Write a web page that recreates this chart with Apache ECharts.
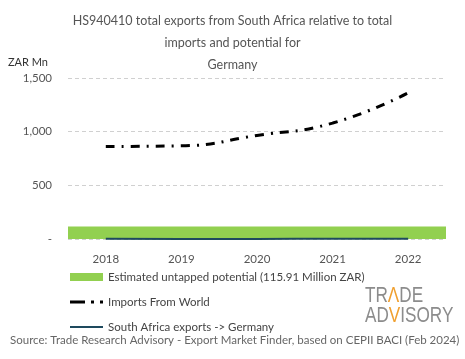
<!DOCTYPE html>
<html><head><meta charset="utf-8">
<script src="https://cdn.jsdelivr.net/npm/echarts@6/dist/echarts.min.js"></script>
<style>html,body{margin:0;padding:0;background:#fff}#c{width:465px;height:359px}</style>
</head><body><div id="c"></div>
<script>
const years = ['2018','2019','2020','2021','2022'];
const untappedPotential = 115.91;
const importsWorld = [862,868,965,1080,1362];
const saExports = [2,1,1,3,2];
const yTicks = [0,500,1000,1500];

const chart = echarts.init(document.getElementById('c'));
const font = 'Lato, "Noto Sans", sans-serif';
const logoFont = '"Liberation Sans", sans-serif';
chart.setOption({
  animation:false,
  title:{text:'HS940410 total exports from South Africa relative to total\nimports and potential for\nGermany',
    left:'center', top:5, textStyle:{fontFamily:font,fontSize:12.5,fontWeight:'normal',color:'#555',lineHeight:22}},
  grid:{left:68,right:19,top:78,bottom:120},
  legend:{orient:'vertical',left:65,top:265,itemGap:11,itemWidth:33,itemHeight:8,
    textStyle:{fontFamily:font,fontSize:11.5,color:'#444',lineHeight:14},
    data:[
      {name:'Estimated untapped potential (115.91 Million ZAR)',icon:'rect',itemStyle:{color:'#92d050'}},
      {name:'Imports From World',icon:'path://M0,3 L10,3 L10,5 L0,5 Z M14,3 L16,3 L16,5 L14,5 Z M20,3 L22,3 L22,5 L20,5 Z',itemStyle:{color:'#000'}},
      {name:'South Africa exports -> Germany',icon:'path://M0,3 L30,3 L30,5 L0,5 Z',itemStyle:{color:'#1e4a5e'}}
    ]},
  xAxis:{type:'category',data:years,boundaryGap:true,
    axisLine:{show:false},axisTick:{show:false},
    axisLabel:{fontFamily:font,fontSize:11.5,color:'#555',margin:14}},
  yAxis:{type:'value',min:0,max:1500,interval:500,name:'ZAR Mn',
    nameLocation:'end',nameGap:10,nameTextStyle:{fontFamily:font,fontSize:11,color:'#333',align:'right',padding:[0,20,0,0]},
    axisLine:{show:false},axisTick:{show:false},
    splitLine:{lineStyle:{type:[4,3],color:'#d0d0d0'}},
    axisLabel:{fontFamily:font,fontSize:11.5,color:'#555',margin:16,
      formatter:v=>v===0?'-':v.toLocaleString('en-US')}},
  series:[
    {name:'Estimated untapped potential (115.91 Million ZAR)',type:'line',data:[],
      itemStyle:{color:'#92d050'},lineStyle:{color:'#92d050'},z:1,
      markArea:{silent:true,itemStyle:{color:'#92d050',opacity:1},
        data:[[{yAxis:0},{yAxis:untappedPotential}]]}},
    {name:'Imports From World',type:'line',data:importsWorld,smooth:true,symbol:'none',
      lineStyle:{color:'#000',width:3,type:[9,7,2,7]},itemStyle:{color:'#000'},z:3},
    {name:'South Africa exports -> Germany',type:'line',data:saExports,smooth:true,symbol:'none',
      lineStyle:{color:'#1e4a5e',width:2},itemStyle:{color:'#1e4a5e'},z:4}
  ],
  graphic:[
    {type:'text',left:10,top:334,style:{text:'Source: Trade Research Advisory - Export Market Finder, based on CEPII BACI (Feb 2024)',
      fontFamily:font,fontSize:11.5,fill:'#666'}},
    {type:'text',x:365,y:285,scaleX:0.78,style:{text:'{g|TR}{o|Λ}{g|DE}',
      rich:{g:{fontFamily:logoFont,fontSize:22,fill:'#8c8c8c'},
            o:{fontFamily:logoFont,fontSize:22,fill:'#f0a030'}}}},
    {type:'text',x:365,y:305,scaleX:0.78,style:{text:'{g|AD}{o|V}{g|ISORY}',
      rich:{g:{fontFamily:logoFont,fontSize:22,fill:'#8c8c8c'},
            o:{fontFamily:logoFont,fontSize:22,fill:'#f0a030'}}}}
  ]
});
</script></body></html>
